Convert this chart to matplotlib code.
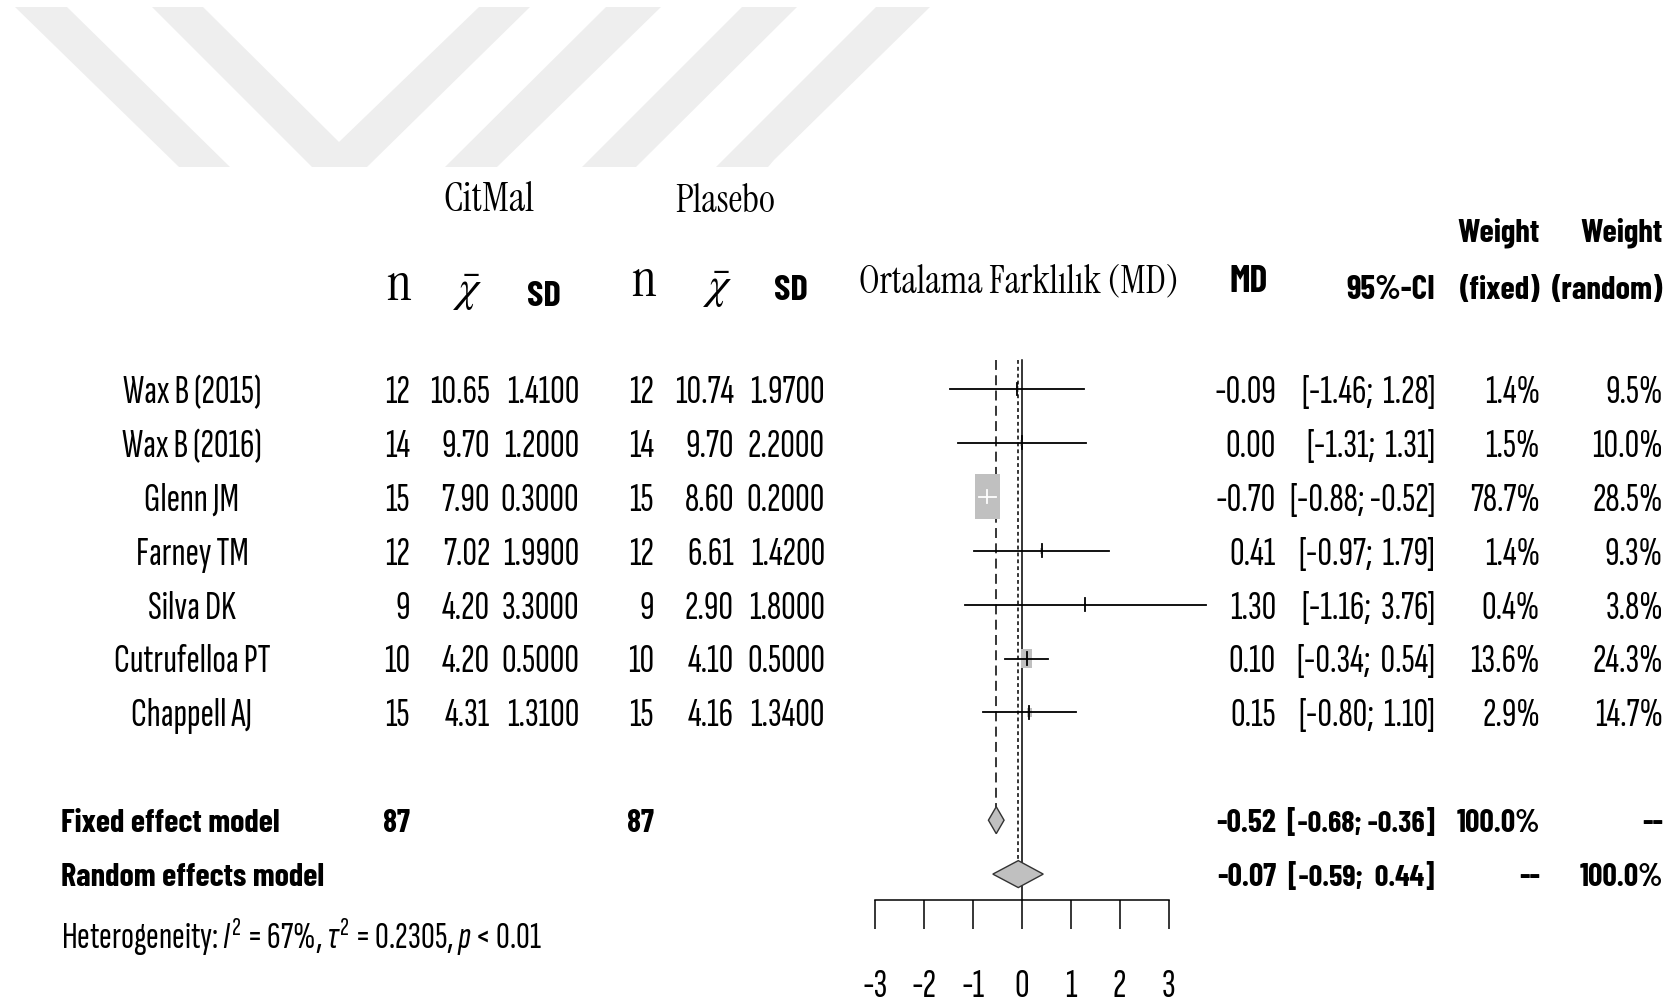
"""Forest plot: CitMal vs Plasebo, mean difference (MD), fixed and random effects."""
import matplotlib
matplotlib.use("Agg")
import matplotlib.pyplot as plt
import matplotlib.transforms as mtransforms
from matplotlib import font_manager
from matplotlib.font_manager import FontProperties
from matplotlib.textpath import TextPath
from matplotlib.patches import Polygon, Rectangle
import numpy as np

W, H = 1677, 1006

studies = ["Wax B (2015)", "Wax B (2016)", "Glenn JM", "Farney TM",
           "Silva DK", "Cutrufelloa PT", "Chappell AJ"]
n_cit = [12, 14, 15, 12, 9, 10, 15]
mean_cit = [10.65, 9.70, 7.90, 7.02, 4.20, 4.20, 4.31]
sd_cit = [1.41, 1.20, 0.30, 1.99, 3.30, 0.50, 1.31]
n_pla = [12, 14, 15, 12, 9, 10, 15]
mean_pla = [10.74, 9.70, 8.60, 6.61, 2.90, 4.10, 4.16]
sd_pla = [1.97, 2.20, 0.20, 1.42, 1.80, 0.50, 1.34]
md = [-0.09, 0.00, -0.70, 0.41, 1.30, 0.10, 0.15]
ci_low = [-1.46, -1.31, -0.88, -0.97, -1.16, -0.34, -0.80]
ci_high = [1.28, 1.31, -0.52, 1.79, 3.76, 0.54, 1.10]
w_fixed = [1.4, 1.5, 78.7, 1.4, 0.4, 13.6, 2.9]
w_random = [9.5, 10.0, 28.5, 9.3, 3.8, 24.3, 14.7]

fixed_md, fixed_lo, fixed_hi = -0.52, -0.68, -0.36
random_md, random_lo, random_hi = -0.07, -0.59, 0.44
total_cit, total_pla = 87, 87
het_i2, het_tau2, het_p = "67%", "0.2305", "< 0.01"
x_ticks = [-3, -2, -1, 0, 1, 2, 3]

# light watermark in the top band (pixel outlines, y measured downwards)
WATERMARK = [
    [(15, 7), (67, 7), (230, 167), (179, 167)],
    [(152, 7), (203, 7), (339, 142), (479, 7), (530, 7), (367, 167), (312, 167)],
    [(606, 7), (661, 7), (497, 167), (445, 167)],
    [(742, 7), (797, 7), (636, 167), (582, 167)],
    [(876, 7), (930, 7), (774, 160), (768, 167), (716, 167)],
]

# ---- fonts (the reference is horizontally squeezed, so use condensed faces)
names = {f.name for f in font_manager.fontManager.ttflist}


def pick(cands):
    for c in cands:
        if c in names:
            return c
    return "DejaVu Sans"


SANS = pick(["Sofia Sans Extra Condensed", "Barlow Condensed", "PT Sans Narrow", "Liberation Sans"])
SANS_B = pick(["Barlow Condensed", "PT Sans Narrow", "Liberation Sans"])
SERIF = pick(["Instrument Serif", "Caladea", "Liberation Serif"])
FS = 29.0
FSB = 22.8

plt.rcParams["axes.unicode_minus"] = False
plt.rcParams["mathtext.fontset"] = "custom"
plt.rcParams["mathtext.rm"] = SANS
plt.rcParams["mathtext.it"] = SANS + ":italic"


def fit_size(s, family, width_px, weight="normal"):
    """font size (pt, at 100 dpi) that makes s about width_px wide"""
    w100 = TextPath((0, 0), s, size=100,
                    prop=FontProperties(family=family, weight=weight)).get_extents().width
    return width_px * 72.0 / w100


def ci_text(lo, hi):
    hi_s = f"{hi:.2f}" if hi < 0 else f" {hi:.2f}"
    return f"[{lo:.2f}; {hi_s}]"


# ---- layout: MD 0 at x=1021.7px, 48.95px per unit; row 0 at y=389px, 53.9px per row
X0, XU = 1021.7, 48.95
Y0, YU = 389.0, 53.9
AX_BOTTOM_PX = 900

fig = plt.figure(figsize=(W / 100, H / 100), dpi=100)
fig.patch.set_facecolor("white")

for shape in WATERMARK:
    pts = [(x / W, 1 - y / H) for x, y in shape]
    fig.patches.append(Polygon(pts, closed=True, transform=fig.transFigure,
                               facecolor="#eeeeee", edgecolor="none", zorder=0))

ax = fig.add_axes([0, (H - AX_BOTTOM_PX) / H, 1, AX_BOTTOM_PX / H])
ax.set_facecolor("none")
ax.set_xlim(-X0 / XU, (W - X0) / XU)
ax.set_ylim((AX_BOTTOM_PX - Y0) / YU, -Y0 / YU)
for side in ("top", "left", "right"):
    ax.spines[side].set_visible(False)
ax.spines["bottom"].set_bounds(x_ticks[0], x_ticks[-1])
ax.spines["bottom"].set_linewidth(1.1)
ax.set_yticks([])
ax.set_xticks(x_ticks)
ax.set_xticklabels([str(t) for t in x_ticks], family=SANS, fontsize=FS)
ax.tick_params(axis="x", direction="out", length=21, width=1.1, pad=29)

# text columns: x in figure fraction, y in row units
tr = mtransforms.blended_transform_factory(fig.transFigure, ax.transData)


def put(px, row, s, ha="right", bold=False, family=None, size=None, **kw):
    ax.text(px / W, row, s, transform=tr, ha=ha, va="center_baseline",
            family=family or (SANS_B if bold else SANS),
            fontsize=size or (FSB if bold else FS),
            fontweight="bold" if bold else "normal", clip_on=False, **kw)


top_row = (360 - Y0) / YU
y_axis = (AX_BOTTOM_PX - Y0) / YU
fixed_row, random_row, het_row = 8, 9, 10

# reference lines
ax.plot([0, 0], [top_row, y_axis], color="black", lw=1.1, zorder=2)
ax.plot([fixed_md, fixed_md], [top_row, fixed_row - 0.25], color="black",
        lw=1.1, ls=(0, (6.5, 3.5)), zorder=1)
ax.plot([random_md, random_md], [top_row, random_row - 0.25], color="black",
        lw=1.1, ls=(0, (2.5, 2.0)), zorder=1)

# study rows
BOX_H = 44.7 / YU      # box height (rows) for the heaviest study
BOX_ASPECT = 0.575     # width/height in pixels
wmax = max(w_fixed)
for i in range(len(studies)):
    y = i
    h = BOX_H * np.sqrt(w_fixed[i] / wmax)
    wd = h * YU * BOX_ASPECT / XU
    ax.add_patch(Rectangle((md[i] - wd / 2, y - h / 2), wd, h,
                           facecolor="#c0c0c0", edgecolor="none", zorder=3))
    col = "white" if (ci_high[i] - ci_low[i]) < wd else "black"
    ax.plot([ci_low[i], ci_high[i]], [y, y], color=col, lw=1.3, zorder=4)
    ax.plot([md[i], md[i]], [y - 0.12, y + 0.12], color=col, lw=1.3, zorder=4)

    put(192, y, studies[i], ha="center")
    put(410, y, f"{n_cit[i]}")
    put(490, y, f"{mean_cit[i]:.2f}")
    put(579, y, f"{sd_cit[i]:.4f}")
    put(654, y, f"{n_pla[i]}")
    put(734, y, f"{mean_pla[i]:.2f}")
    put(825, y, f"{sd_pla[i]:.4f}")
    put(1276, y, f"{md[i]:.2f}")
    put(1435, y, ci_text(ci_low[i], ci_high[i]))
    put(1540, y, f"{w_fixed[i]:.1f}%")
    put(1663, y, f"{w_random[i]:.1f}%")

# summary diamonds
DH = 0.25
for m, lo, hi_, row in [(fixed_md, fixed_lo, fixed_hi, fixed_row),
                        (random_md, random_lo, random_hi, random_row)]:
    ax.add_patch(Polygon([(lo, row), (m, row - DH), (hi_, row), (m, row + DH)],
                         closed=True, facecolor="#c0c0c0", edgecolor="#333333",
                         lw=1.0, zorder=5))

put(61, fixed_row, "Fixed effect model", ha="left", bold=True, size=23.3)
put(410, fixed_row, f"{total_cit}", bold=True)
put(654, fixed_row, f"{total_pla}", bold=True)
put(1276, fixed_row, f"{fixed_md:.2f}", bold=True)
put(1435, fixed_row, ci_text(fixed_lo, fixed_hi), bold=True, size=21.8)
put(1540, fixed_row, "100.0%", bold=True)
put(1663, fixed_row, "--", bold=True)

put(61, random_row, "Random effects model", ha="left", bold=True, size=23.3)
put(1276, random_row, f"{random_md:.2f}", bold=True)
put(1435, random_row, ci_text(random_lo, random_hi), bold=True, size=21.8)
put(1540, random_row, "--", bold=True)
put(1663, random_row, "100.0%", bold=True)

het = rf"Heterogeneity: $I^2$ = {het_i2}, $\tau^2$ = {het_tau2}, $p$ {het_p}"
put(61, het_row + 0.08, het, ha="left", size=27.5)

# column headers
hrow = lambda py: (py - Y0) / YU
put(489, hrow(196), "CitMal", ha="center", family=SERIF,
    size=fit_size("CitMal", SERIF, 89))
put(725, hrow(198), "Plasebo", ha="center", family=SERIF,
    size=fit_size("Plasebo", SERIF, 98))
put(399, hrow(281), "n", ha="center", family=SERIF, size=38)
put(644, hrow(277), "n", ha="center", family=SERIF, size=38)
put(468, hrow(287), r"$\bar{\chi}$", ha="center", size=33, math_fontfamily="stix")
put(718, hrow(284), r"$\bar{\chi}$", ha="center", size=33, math_fontfamily="stix")
put(544, hrow(293), "SD", ha="center", bold=True, size=26.5)
put(791, hrow(288), "SD", ha="center", bold=True, size=26.5)
put(1019, hrow(278), "Ortalama Farklılık (MD)", ha="center", family=SERIF,
    size=fit_size("Ortalama Farklılık (MD)", SERIF, 315))
put(1249, hrow(278), "MD", ha="center", bold=True, size=27)
put(1435, hrow(287), "95%-CI", bold=True, size=24)
put(1540, hrow(230), "Weight", bold=True, size=23.5)
put(1540, hrow(287), "(fixed)", bold=True, size=23.5)
put(1663, hrow(230), "Weight", bold=True, size=23.5)
put(1663, hrow(287), "(random)", bold=True, size=23.5)

fig.savefig("out.png", dpi=100, facecolor="white")
